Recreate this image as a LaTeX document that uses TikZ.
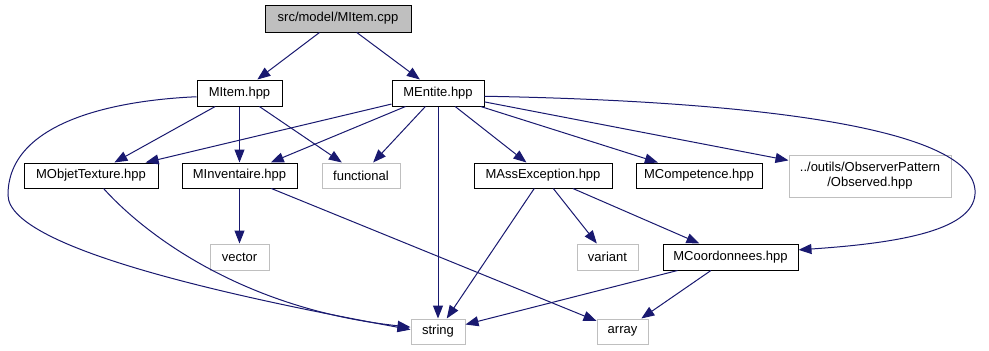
\documentclass[tikz,border=0pt]{standalone}
\usepackage{fontspec}
\setmainfont{Liberation Sans}
\usetikzlibrary{arrows.meta}
\definecolor{edgeblue}{HTML}{191970}
\definecolor{extgray}{HTML}{BFBFBF}
\begin{document}
\begin{tikzpicture}[x=1pt,y=-1pt,
  box/.style={draw=black, line width=1pt, inner sep=0pt, minimum height=26pt,
              font=\fontsize{13}{15}\selectfont, align=center},
  ext/.style={box, draw=extgray},
  root/.style={box, fill=extgray},
  edge/.style={draw=edgeblue, line width=1pt, -{Triangle[length=13pt,width=10pt]}}]
\fill[white] (0,0) rectangle (989,351);
\useasboundingbox (0,0) rectangle (989,351);

% files of the project
\node[root, minimum width=146pt, minimum height=27pt] (cpp) at (338,18.5) {src/model/MItem.cpp};
\node[box, minimum width=85pt]  (item)   at (239.5,93)  {MItem.hpp};
\node[box, minimum width=92pt]  (entite) at (438,93)    {MEntite.hpp};
\node[box, minimum width=134pt, minimum height=25pt] (objtex) at (91,175.5)  {MObjetTexture.hpp};
\node[box, minimum width=115pt, minimum height=25pt] (inv)    at (239.5,175.5) {MInventaire.hpp};
\node[box, minimum width=138pt, minimum height=25pt] (assexc) at (543,175.5) {MAssException.hpp};
\node[box, minimum width=126pt, minimum height=25pt] (comp)   at (699,175.5) {MCompetence.hpp};
\node[box, minimum width=135pt] (coord)  at (730.5,257) {MCoordonnees.hpp};

% external headers
\node[ext, minimum width=78pt, minimum height=25pt]  (func)    at (361,175.5) {functional};
\node[ext, minimum width=162pt, minimum height=42pt] (obs)     at (870,176) {../outils/ObserverPattern\\/Observed.hpp};
\node[ext, minimum width=59pt]  (vector)  at (239.5,257) {vector};
\node[ext, minimum width=61pt]  (variant) at (607.5,257) {variant};
\node[ext, minimum width=54pt, minimum height=25pt] (string) at (438,331.5) {string};
\node[ext, minimum width=51pt, minimum height=25pt] (array)  at (622.5,331.5) {array};

% include relations
\draw[edge] (cpp) -- (item);
\draw[edge] (cpp) -- (entite);

\draw[edge] (item) -- (objtex);
\draw[edge] (item) -- (inv);
\draw[edge] (item) -- (func);
\draw[edge] (item.185) .. controls (120,100) and (8,120) .. (8,195)
                       .. controls (8,250) and (250,300) .. (string.176);

\draw[edge] (entite) -- (objtex);
\draw[edge] (entite) -- (inv);
\draw[edge] (entite) -- (func);
\draw[edge] (entite) -- (string);
\draw[edge] (entite) -- (assexc);
\draw[edge] (entite) -- (comp);
\draw[edge] (entite) -- (obs);
\draw[edge] (entite.-4) .. controls (700,100) and (970,120) .. (975,190)
                        .. controls (978,230) and (900,243) .. (coord.6);

\draw[edge] (objtex.-46) .. controls (150,240) and (250,310) .. (string.171);
\draw[edge] (inv) -- (vector);
\draw[edge] (inv) -- (array);

\draw[edge] (assexc) -- (string);
\draw[edge] (assexc) -- (variant);
\draw[edge] (assexc) -- (coord);

\draw[edge] (coord) -- (string);
\draw[edge] (coord) -- (array);
\end{tikzpicture}
\end{document}
